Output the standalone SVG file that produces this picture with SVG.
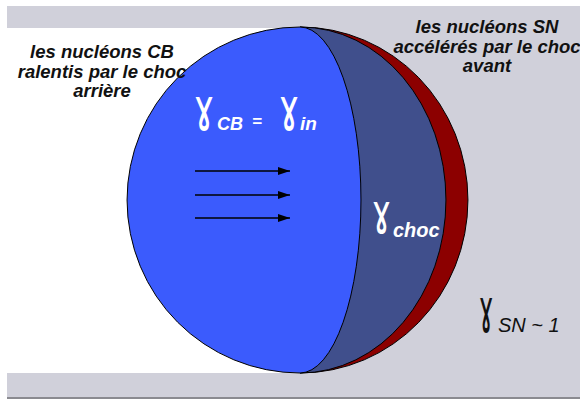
<svg xmlns="http://www.w3.org/2000/svg" width="580" height="404" viewBox="0 0 580 404">
<defs>
<marker id="ah" markerWidth="12" markerHeight="8" refX="12" refY="4" orient="auto" markerUnits="userSpaceOnUse">
<path d="M0,0 L12,4 L0,8 Z" fill="#000"/>
</marker>
<style>
.lbl{font-family:"Liberation Sans",Arial,sans-serif;font-style:italic;font-weight:bold;font-size:18.5px;fill:#111;text-anchor:middle}
.sym{font-family:"Liberation Sans",Arial,sans-serif;font-style:italic;font-weight:bold;font-size:19px}
.g{font-family:"DejaVu Sans",sans-serif;font-size:60px}
.w{fill:#fff}
.k{fill:#111}
.shape{stroke:#000;stroke-width:1}
.arr{stroke:#000;stroke-width:1.5;marker-end:url(#ah)}
</style>
</defs>
<rect x="0" y="0" width="580" height="404" fill="#fff"/>
<rect x="7" y="6" width="573" height="391" fill="#d0d0da"/>
<rect x="7" y="397" width="573" height="2" fill="#8a8a90"/>
<rect x="7" y="28" width="298" height="345" fill="#fff"/>
<g id="sphere">
<path class="shape" d="M300,27 A168,173 0 0 1 300,373 Z" fill="#8c0000"/>
<path class="shape" d="M300,27 A146,173 0 0 1 300,373 Z" fill="#404f8c"/>
<path class="shape" d="M300,27 A173,173 0 0 0 300,373 A61,173 0 0 0 300,27 Z" fill="#3b5bfd"/>
</g>
<g id="connectors">
<line class="arr" x1="195" y1="171" x2="290" y2="171"/>
<line class="arr" x1="195" y1="195" x2="290" y2="195"/>
<line class="arr" x1="195" y1="218" x2="290" y2="218"/>
</g>
<g id="label-cb">
<text class="lbl" x="102" y="58">les nucléons CB</text>
<text class="lbl" x="102" y="78">ralentis par le choc</text>
<text class="lbl" x="102" y="97">arrière</text>
</g>
<g id="label-sn">
<text class="lbl" x="487" y="33">les nucléons SN</text>
<text class="lbl" x="487" y="53">accélérés par le choc</text>
<text class="lbl" x="487" y="72">avant</text>
</g>
<g id="gamma-cb">
<text class="g w" transform="translate(194,130) scale(0.56,1)">ɤ</text>
<text class="sym w" x="217" y="130" style="font-size:18px">CB</text>
<text class="sym w" x="252" y="127" style="font-size:17px">=</text>
<text class="g w" transform="translate(279,130) scale(0.56,1)">ɤ</text>
<text class="sym w" x="300" y="130">in</text>
</g>
<g id="gamma-choc">
<text class="g w" transform="translate(372,233) scale(0.53,0.95)">ɤ</text>
<text class="sym w" x="393" y="237" style="font-size:20px">choc</text>
</g>
<g id="gamma-sn">
<text class="g k" transform="translate(479,332) scale(0.4,1.03)">ɤ</text>
<text class="sym k" x="498" y="332" style="font-weight:normal;font-size:20px">SN ~ 1</text>
</g>
</svg>
